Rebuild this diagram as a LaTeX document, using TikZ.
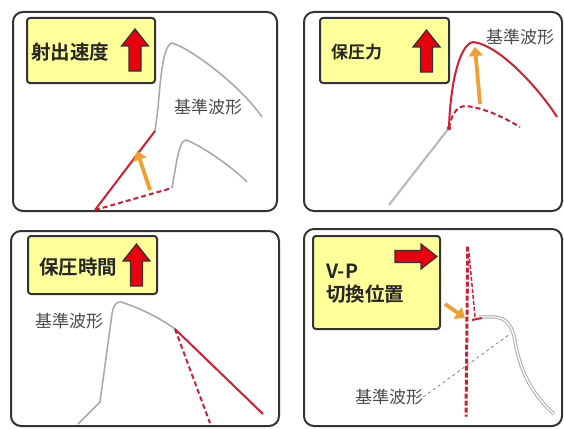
\documentclass[tikz,border=0pt]{standalone}
\usepackage{fontspec}
\newfontfamily\jp{Noto Sans CJK JP}
\newfontfamily\jpb{Noto Sans CJK JP Bold}
\usetikzlibrary{arrows.meta}
\definecolor{wred}{HTML}{D21E32}
\definecolor{aorange}{HTML}{F0A030}
\definecolor{wgray}{HTML}{AAAAAA}
\definecolor{byellow}{HTML}{FFFF99}
\definecolor{frame}{HTML}{333333}
\definecolor{lbl}{HTML}{4A4A4A}
\definecolor{afill}{HTML}{E8000F}
\tikzset{
  panel/.style={draw=frame, line width=2, rounded corners=10},
  ybox/.style={draw=frame, fill=byellow, line width=2, rounded corners=3, inner sep=0},
  boxtext/.style={font=\jpb\fontsize{19.5}{23}\selectfont, text=black!85, anchor=west, inner sep=0},
  reflabel/.style={font=\jp\fontsize{17}{19}\selectfont, text=lbl, inner sep=0},
  blockarr/.style={draw=black!80, fill=afill, line width=1.2, line join=miter},
  refcurve/.style={draw=wgray, line width=1.6},
  redsolid/.style={draw=wred, line width=2},
  reddash/.style={draw=wred, line width=2, dash pattern=on 5 off 3},
  orarrow/.style={draw=aorange, line width=3.8, -{Triangle[length=9, width=14]}},
  uparr/.pic={\path[blockarr] (-6,0) -- (-6,-25) -- (-13.5,-25) -- (0,-42) -- (13.5,-25) -- (6,-25) -- (6,0) -- cycle;},
  rightarr/.pic={\path[blockarr] (0,-6) -- (26,-6) -- (26,-12.5) -- (42,0) -- (26,12.5) -- (26,6) -- (0,6) -- cycle;}
}
\begin{document}
\begin{tikzpicture}[x=1pt,y=-1pt]
\useasboundingbox (0,0) rectangle (564,428);
\fill[white] (0,0) rectangle (564,428);
% frames
\draw[panel] (13,12) rectangle (277,211);
\draw[panel] (304,12) rectangle (562,211);
\draw[panel] (11,231) rectangle (279,426);
\draw[panel] (304,229) rectangle (562,426);
% yellow boxes
\node[ybox, minimum width=128, minimum height=65] (b1) at (91,50.5) {};
\node[ybox, minimum width=129, minimum height=65] (b2) at (384.5,50.5) {};
\node[ybox, minimum width=129, minimum height=58] (b3) at (92.5,265) {};
\node[ybox, minimum width=127, minimum height=93] (b4) at (376.5,282.5) {};
\node[boxtext] (t1) at (31,52) {射出速度};
\node[boxtext, font=\jpb\fontsize{17}{20}\selectfont] (t2) at (331,52) {保圧力};
\node[boxtext] (t3) at (39,267) {保圧時間};
\node[boxtext] (t4a) at (326,271) {V-P};
\node[boxtext] (t4b) at (326,294) {切換位置};
\pic at (135,71) {uparr};
\pic at (426.5,72) {uparr};
\pic at (136.5,286) {uparr};
\pic at (395,256.5) {rightarr};
% panel 1
\path[refcurve] (155,131) -- (158,108) .. controls (161,70) and (164,45) .. (172,43) .. controls (190,48) and (240,85) .. (262,117);
\path[refcurve] (172,188) -- (176,165) .. controls (179,148) and (182,140) .. (186,140) .. controls (200,145) and (230,165) .. (247,182);
\path[redsolid] (95,210) -- (155,131);
\path[reddash] (95,210) -- (172,188);
\draw[orarrow] (150,190) -- (137,151);
\node[reflabel] (l1) at (208,107) {基準波形};
% panel 2
\path[draw=wgray!80, line width=2.2] (389,205) -- (449,128);
\path[redsolid] (449,128) .. controls (450,90) and (458,45) .. (473,42) .. controls (500,45) and (540,90) .. (557,117);
\path[reddash] (449,128) .. controls (452,112) and (458,106) .. (466,106) .. controls (485,108) and (505,118) .. (520,127);
\fill[wred] (449,128) circle (2.2);
\draw[orarrow] (480,104) -- (475,47);
\node[reflabel] (l2) at (520,37) {基準波形};
% panel 3
\path[refcurve] (78,424) -- (100,402) -- (112,314) .. controls (114,304) and (116,302) .. (121,302) .. controls (140,308) and (160,318) .. (175,329);
\path[redsolid] (175,329) -- (263,414);
\path[reddash] (175,329) -- (210,423);
\node[reflabel] (l3) at (69,321) {基準波形};
% panel 4
\path[draw=wgray, line width=3.4] (479,317) -- (495,317) .. controls (505,318) and (511,324) .. (514,336) .. controls (518,360) and (525,388) .. (554,414);
\path[draw=white, line width=1.4] (479,317) -- (495,317) .. controls (505,318) and (511,324) .. (514,336) .. controls (518,360) and (525,388) .. (554,414);
\path[draw=wred, line width=1.5, dash pattern=on 4 off 2] (469,253) -- (475,317);
\path[draw=wred, line width=2] (472,320) -- (482,318);
\path[draw=wred, line width=3, dash pattern=on 5 off 2] (467.7,246.7) -- (466,416.7);
\draw[orarrow] (445,304) -- (465,318);
\node[reflabel] (l4) at (389,397) {基準波形};
\draw[draw=black!60, line width=0.6, dashed] (l4.east) -- (510,334);
\end{tikzpicture}
\end{document}
